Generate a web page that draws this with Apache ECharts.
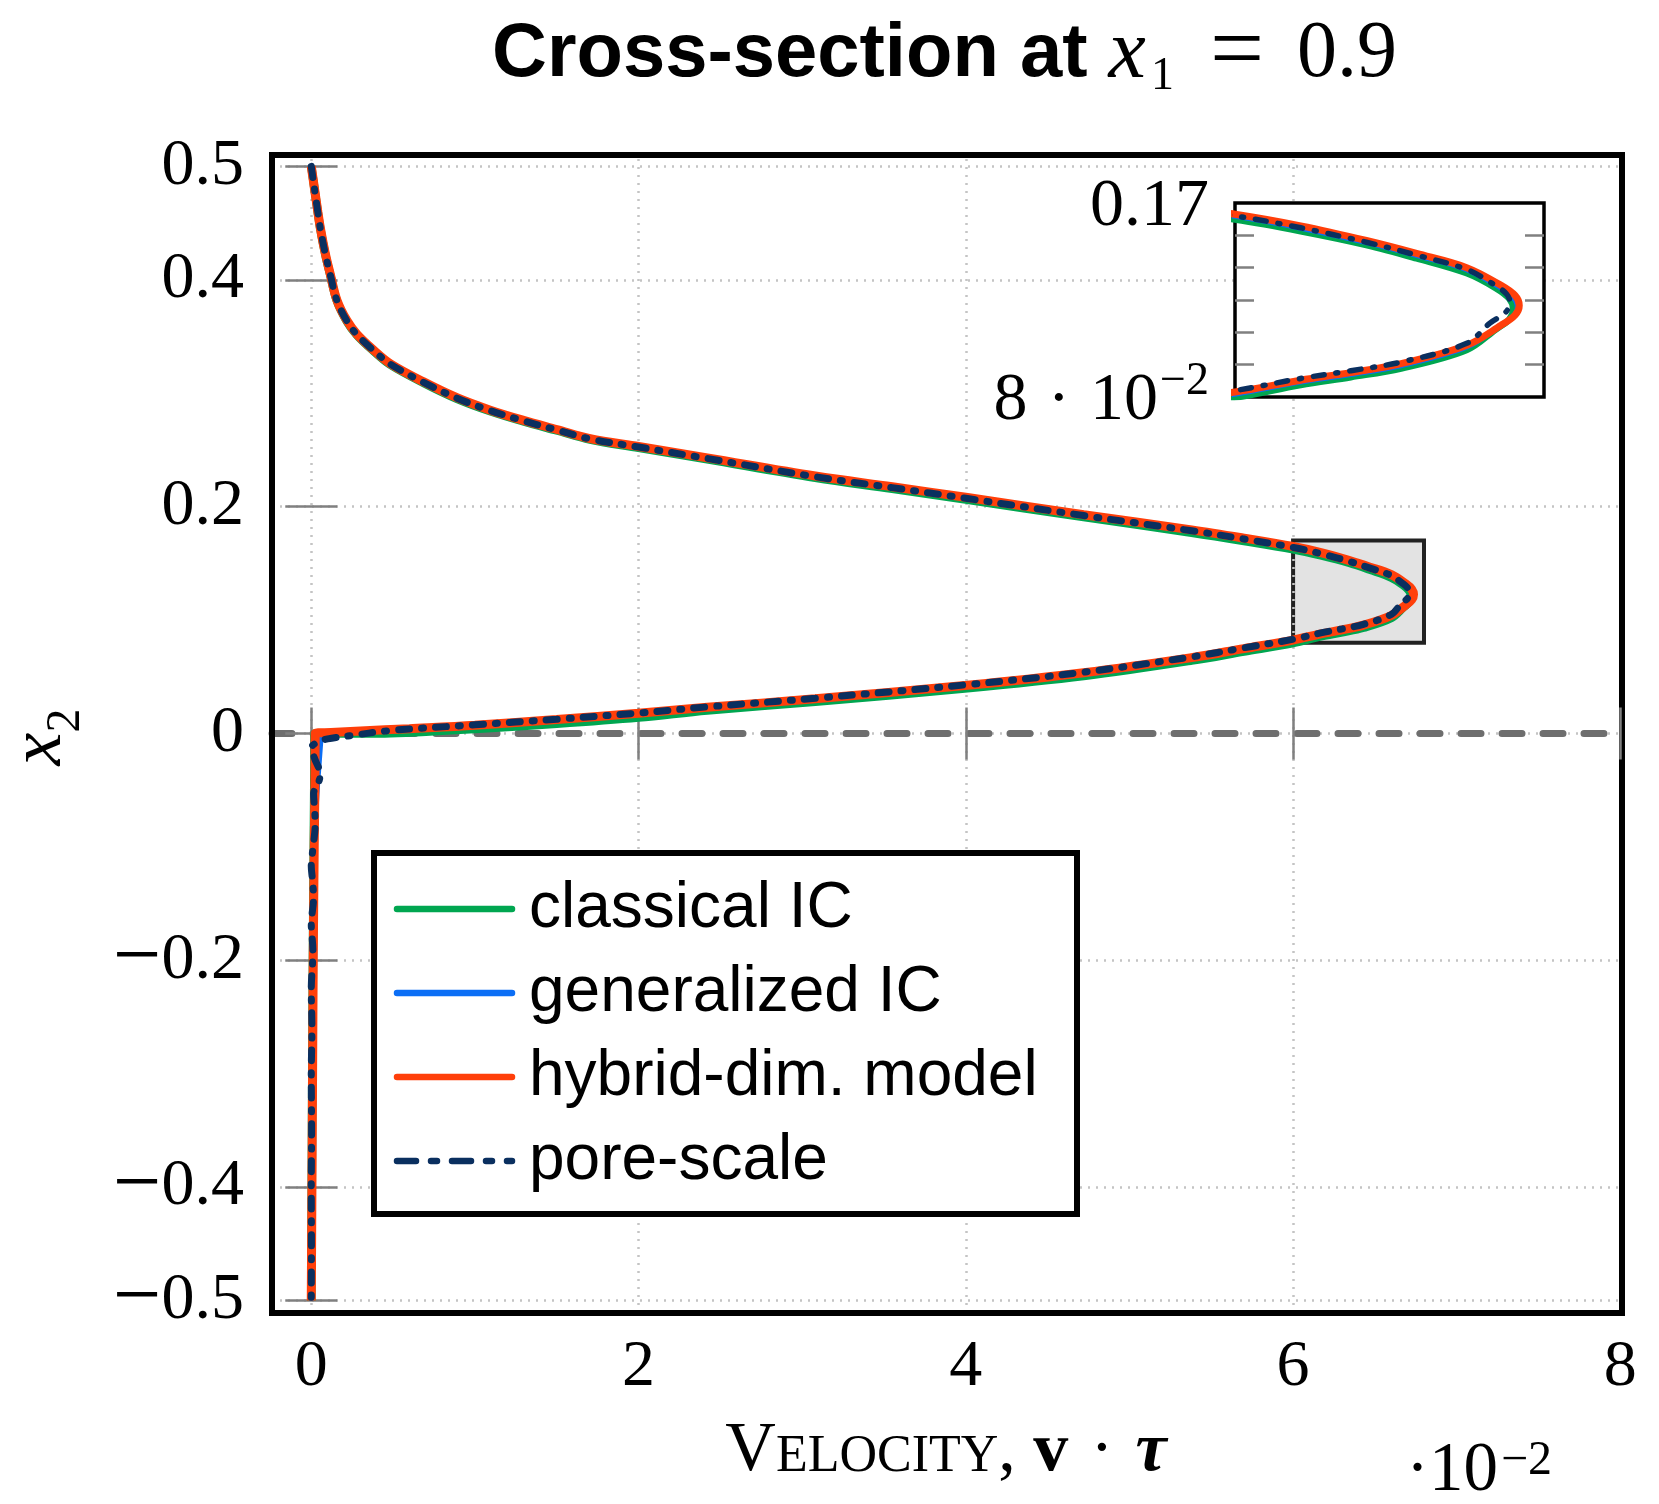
<!DOCTYPE html>
<html><head><meta charset="utf-8">
<script src="https://cdn.jsdelivr.net/npm/echarts@6/dist/echarts.min.js"></script>
<style>html,body{margin:0;padding:0;background:#fff}#c{width:1659px;height:1504px}</style>
</head><body><div id="c"></div>
<script>
// ---------- data (velocity in units of 1e-2, x2 coordinate) ----------
const velocityTicks = [0, 2, 4, 6, 8];
const x2Ticks = [-0.5, -0.4, -0.2, 0, 0.2, 0.4, 0.5];
const insetTicks = [0.095, 0.11, 0.125, 0.14, 0.155];
const insetLabelValues = [0.08, 0.17];
const zoomBoxV = [6.0, 6.8];
const zoomBoxX2 = [0.08, 0.17];
const legendNames = ['classical IC', 'generalized IC', 'hybrid-dim. model', 'pore-scale'];

const classicalV = [0,0.012,0.024,0.040,0.055,0.086,0.116,0.157,0.218,0.279,0.381,0.483,0.686,0.890,1.094,1.297,1.500,1.704,2.000,2.420,3.080,3.550,4.010,4.720,5.380,5.700,6.000,6.170,6.340,6.470,6.600,6.675,6.710,6.720,6.710,6.675,6.600,6.430,6.300,6.170,6.000,5.700,5.380,4.720,4.010,3.080,2.420,2.000,1.500,1.000,0.700,0.450,0.050,0.020,0.0195,0.018,0.015,0.010,0.006,0.003,0.000];
const classicalX2 = [0.500,0.4878,0.4755,0.4595,0.4452,0.4222,0.4042,0.3812,0.3632,0.3512,0.3371,0.3251,0.3091,0.2951,0.2841,0.2751,0.2671,0.2591,0.2518,0.2416,0.2254,0.2157,0.2059,0.1907,0.1770,0.1697,0.1623,0.1569,0.1505,0.1443,0.1374,0.1305,0.1256,0.1208,0.1160,0.1113,0.1018,0.0932,0.0892,0.0856,0.0797,0.0722,0.0642,0.0506,0.0398,0.0280,0.0203,0.0140,0.0085,0.0040,0.0015,0.0000,0.0000,0.0000,-0.008,-0.050,-0.100,-0.200,-0.300,-0.400,-0.500];

const generalizedV = [0,0.012,0.024,0.040,0.055,0.086,0.116,0.157,0.218,0.279,0.381,0.483,0.686,0.890,1.094,1.297,1.500,1.704,2.000,2.420,3.080,3.550,4.010,4.720,5.380,5.700,6.000,6.170,6.340,6.470,6.600,6.683,6.718,6.730,6.718,6.683,6.600,6.430,6.300,6.170,6.000,5.700,5.380,4.720,4.010,3.080,2.420,2.000,1.500,1.000,0.600,0.300,0.120,0.060,0.057,0.050,0.035,0.024,0.012,0.006,0.003,0.000];
const generalizedX2 = [0.500,0.4879,0.4757,0.4597,0.4455,0.4225,0.4045,0.3815,0.3635,0.3515,0.3375,0.3255,0.3095,0.2955,0.2845,0.2755,0.2675,0.2595,0.2524,0.2423,0.2262,0.2166,0.2069,0.1918,0.1784,0.1711,0.1637,0.1582,0.1515,0.1455,0.1389,0.1310,0.1264,0.1218,0.1172,0.1125,0.1030,0.0944,0.0903,0.0868,0.0812,0.0737,0.0657,0.0521,0.0413,0.0295,0.0222,0.0168,0.0113,0.0064,0.0034,0.0015,0.0004,0.0000,-0.006,-0.020,-0.050,-0.080,-0.150,-0.300,-0.400,-0.500];

const hybridV = [0,0.012,0.024,0.040,0.055,0.086,0.116,0.157,0.218,0.279,0.381,0.483,0.686,0.890,1.094,1.297,1.500,1.704,2.000,2.420,3.080,3.550,4.010,4.720,5.380,5.700,6.000,6.170,6.340,6.470,6.600,6.689,6.725,6.736,6.725,6.689,6.600,6.430,6.300,6.170,6.000,5.700,5.380,4.720,4.010,3.080,2.420,2.000,1.500,1.000,0.600,0.300,0.120,0.024,0.0235,0.022,0.018,0.012,0.008,0.004,0.000];
const hybridX2 = [0.500,0.488,0.476,0.460,0.446,0.423,0.405,0.382,0.364,0.352,0.338,0.326,0.310,0.296,0.285,0.276,0.268,0.260,0.253,0.243,0.227,0.2175,0.208,0.1928,0.1795,0.1722,0.1648,0.1594,0.1526,0.1466,0.1400,0.1318,0.1271,0.1225,0.1180,0.1133,0.1040,0.0955,0.0913,0.0878,0.0823,0.0748,0.0668,0.0535,0.0424,0.0305,0.0230,0.0178,0.0122,0.0072,0.0042,0.0021,0.0008,0.0000,-0.008,-0.050,-0.100,-0.200,-0.300,-0.400,-0.500];

const poreV = [0,0.012,0.024,0.040,0.055,0.086,0.116,0.157,0.218,0.279,0.381,0.483,0.686,0.890,1.094,1.297,1.500,1.704,2.000,2.420,3.080,3.550,4.010,4.720,5.380,5.700,6.000,6.170,6.340,6.470,6.600,6.670,6.703,6.712,6.700,6.660,6.600,6.430,6.300,6.170,6.000,5.700,5.380,4.720,4.010,3.080,2.420,2.000,1.500,1.000,0.480,0.240,0.100,0.035,0.004,0.020,0.055,0.040,0.014,0.020,0.024,0.014,0.000,0.008,0.014,0.000,0.010,0.000,0.004,0.000,0.002,0.000,0.001,0.000];
const poreX2 = [0.500,0.4878,0.4757,0.4597,0.4455,0.4225,0.4045,0.3815,0.3636,0.3516,0.3376,0.3256,0.3096,0.2956,0.2846,0.2756,0.2676,0.2596,0.2525,0.2424,0.2263,0.2167,0.2071,0.1921,0.1787,0.1714,0.1640,0.1585,0.1518,0.1458,0.1392,0.1322,0.1278,0.1237,0.1192,0.1143,0.1049,0.0962,0.0922,0.0886,0.0830,0.0755,0.0675,0.0540,0.0430,0.0310,0.0234,0.0180,0.0125,0.0076,0.0025,-0.0020,-0.0048,-0.0080,-0.0120,-0.0220,-0.0360,-0.0450,-0.0530,-0.0660,-0.0800,-0.0970,-0.1170,-0.1300,-0.1450,-0.1680,-0.1920,-0.2260,-0.2600,-0.3000,-0.3500,-0.4000,-0.4500,-0.5000];

// ---------- helpers ----------
const pairs = (a, b) => a.map((v, i) => [v, b[i]]);
const SERIF = '"Liberation Serif", "DejaVu Serif", serif';
const SANS = '"Liberation Sans", Arial, sans-serif';
const GREEN = '#00a650', BLUE = '#0b6ef5', RED = '#ff3f0a', NAVY = '#0a2f5f';
const fmtY = v => Math.abs(v) < 1e-12 ? '0' : (v < 0 ? '{mi|\u2212}' : '') + Math.abs(v).toFixed(1);

const curveDefs = [
  {name: legendNames[0], v: classicalV, y: classicalX2, color: GREEN, width: 8.5, insetWidth: 6.5, type: null},
  {name: legendNames[1], v: generalizedV, y: generalizedX2, color: BLUE, width: 5.5, insetWidth: 4.5, type: null},
  {name: legendNames[2], v: hybridV, y: hybridX2, color: RED, width: 9, insetWidth: 7, type: null},
  {name: legendNames[3], v: poreV, y: poreX2, color: NAVY, width: 7, insetWidth: 5.5, type: [11, 12, 2, 12]}
];

const series = [];
series.push({
  type: 'line', xAxisIndex: 0, yAxisIndex: 0, data: [[0, 0]], symbol: 'none', silent: true,
  lineStyle: {width: 0, opacity: 0}, z: 21,
  markLine: {
    silent: true, symbol: ['none', 'none'], label: {show: false}, animation: false,
    lineStyle: {color: '#c4c4c4', width: 2.5, type: [2, 6]},
    data: x2Ticks.map(t => ({yAxis: t})).concat(velocityTicks.map(t => ({xAxis: t})))
  }
});
series.push({
  type: 'line', xAxisIndex: 0, yAxisIndex: 0, data: [[0, 0]], symbol: 'none', silent: true,
  lineStyle: {width: 0, opacity: 0}, z: 22,
  markLine: {
    silent: true, symbol: ['none', 'none'], label: {show: false}, animation: false,
    lineStyle: {color: '#6e6e6e', width: 7, type: [20, 21], cap: 'round'},
    data: [{yAxis: 0}]
  },
  markArea: {
    silent: true, label: {show: false},
    itemStyle: {color: '#e3e3e3', borderColor: '#222', borderWidth: 4},
    data: [[{xAxis: zoomBoxV[0], yAxis: zoomBoxX2[0]}, {xAxis: zoomBoxV[1], yAxis: zoomBoxX2[1]}]]
  }
});
curveDefs.forEach((c, i) => {
  const ls = {color: c.color, width: c.width};
  if (c.type) { ls.type = c.type; ls.cap = 'round'; }
  series.push({
    name: c.name, type: 'line', xAxisIndex: 0, yAxisIndex: 0, data: pairs(c.v, c.y),
    symbol: 'none', smooth: 0.35, z: 30 + i, lineStyle: ls
  });
});
curveDefs.forEach((c, i) => {
  const ls = {color: c.color, width: c.insetWidth};
  if (c.type) { ls.type = c.type; ls.cap = 'round'; }
  series.push({
    type: 'line', xAxisIndex: 2, yAxisIndex: 2, data: pairs(c.v, c.y),
    symbol: 'none', smooth: 0.35, z: 42 + i, lineStyle: ls
  });
});

const tickStyle = {show: true, inside: true, length: 26, lineStyle: {color: '#808080', width: 2.5}};
const labelStyle = {fontFamily: SERIF, fontSize: 66, color: '#000'};

// legend drawn as graphic (box, line samples, labels)
const legendTop = 853, legendLeft = 374, legendRowY = [909, 993, 1077, 1161];
const legendGraphics = [{
  type: 'rect', z: 50, shape: {x: legendLeft, y: legendTop, width: 703, height: 361},
  style: {fill: '#fff', stroke: '#000', lineWidth: 6}
}];
curveDefs.forEach((c, i) => {
  legendGraphics.push({
    type: 'line', z: 51, shape: {x1: 397, y1: legendRowY[i], x2: 512, y2: legendRowY[i]},
    style: {stroke: c.color, lineWidth: 6.5, lineCap: 'round', lineDash: c.type ? [19, 15, 6, 15] : null}
  });
  legendGraphics.push({
    type: 'text', z: 51, x: 529, y: legendRowY[i],
    style: {text: c.name, fontFamily: SANS, fontSize: 64, fill: '#000', align: 'left', verticalAlign: 'middle'}
  });
});

const option = {
  animation: false,
  backgroundColor: '#fff',
  title: {
    text: '{b|Cross-section at }{m|x}{s|1}{e|=}{n|0.9}',
    left: 487, top: 5,
    textStyle: {
      rich: {
        b: {fontFamily: SANS, fontWeight: 'bold', fontSize: 76, lineHeight: 90, color: '#000'},
        m: {fontFamily: SERIF, fontWeight: 'normal', fontStyle: 'italic', fontSize: 84, lineHeight: 90, color: '#000'},
        s: {fontFamily: SERIF, fontWeight: 'normal', fontSize: 46, lineHeight: 46, verticalAlign: 'bottom', padding: [0, 0, 0, 5], color: '#000'},
        e: {fontFamily: SERIF, fontWeight: 'normal', fontSize: 96, lineHeight: 90, padding: [0, 33, 0, 36], color: '#000'},
        n: {fontFamily: SERIF, fontWeight: 'normal', fontSize: 80, lineHeight: 90, color: '#000'}
      }
    }
  },
  grid: [
    {left: 272, right: 37, top: 155, bottom: 191, show: true, borderColor: '#000', borderWidth: 6,
     backgroundColor: 'transparent', containLabel: false, outerBoundsMode: 'none', z: 20},
    {left: 1235, top: 203, width: 309, height: 194, show: true, borderColor: '#000', borderWidth: 3.5,
     backgroundColor: '#fff', containLabel: false, outerBoundsMode: 'none', z: 40}
  ],
  xAxis: [
    {type: 'value', gridIndex: 0, position: 'bottom', min: -0.24, max: 8.01, z: 21,
     axisLine: {show: false}, splitLine: {show: false},
     axisTick: Object.assign({customValues: velocityTicks}, tickStyle),
     axisLabel: Object.assign({customValues: velocityTicks, margin: 22, formatter: v => String(v)}, labelStyle)},
    {type: 'value', gridIndex: 0, position: 'top', min: -0.24, max: 8.01, z: 21,
     axisLine: {show: false}, splitLine: {show: false}, axisLabel: {show: false},
     axisTick: Object.assign({customValues: velocityTicks}, tickStyle)},
    {type: 'value', gridIndex: 1, min: zoomBoxV[0], max: zoomBoxV[1], z: 48,
     axisLine: {show: false}, splitLine: {show: false}, axisLabel: {show: false}, axisTick: {show: false}}
  ],
  yAxis: [
    {type: 'value', gridIndex: 0, position: 'left', min: -0.511, max: 0.51, z: 21,
     axisLine: {show: false}, splitLine: {show: false},
     axisTick: Object.assign({customValues: x2Ticks}, tickStyle),
     axisLabel: Object.assign({customValues: x2Ticks, margin: 28, formatter: fmtY,
       rich: {mi: {fontFamily: SERIF, fontSize: 86, color: '#000'}}}, labelStyle)},
    {type: 'value', gridIndex: 0, position: 'right', min: -0.511, max: 0.51, z: 21,
     axisLine: {show: false}, splitLine: {show: false}, axisLabel: {show: false},
     axisTick: Object.assign({customValues: x2Ticks}, tickStyle)},
    {type: 'value', gridIndex: 1, position: 'left', min: zoomBoxX2[0], max: zoomBoxX2[1], z: 48,
     axisLine: {show: false}, splitLine: {show: false},
     axisTick: {show: true, inside: true, length: 19, customValues: insetTicks, lineStyle: {color: '#808080', width: 2.5}},
     axisLabel: Object.assign({customValues: insetLabelValues, margin: 26,
       formatter: v => Math.abs(v - 0.17) < 1e-9 ? '{n|0.17}' : '{n|8}{d|·}{n|10}{sup|\u22122}',
       rich: {
         n: {fontFamily: SERIF, fontSize: 68, color: '#000', padding: [8, 0, 0, 0]},
         d: {fontFamily: SERIF, fontSize: 68, color: '#000', padding: [8, 20, 0, 20]},
         sup: {fontFamily: SERIF, fontSize: 46, color: '#000', verticalAlign: 'top', padding: [0, 0, 0, 2]}
       }}, labelStyle)},
    {type: 'value', gridIndex: 1, position: 'right', min: zoomBoxX2[0], max: zoomBoxX2[1], z: 48,
     axisLine: {show: false}, splitLine: {show: false}, axisLabel: {show: false},
     axisTick: {show: true, inside: true, length: 19, customValues: insetTicks, lineStyle: {color: '#808080', width: 2.5}}}
  ],
  graphic: legendGraphics.concat([
    {type: 'text', x: 946, y: 1452, z: 60, style: {
      text: '{c|V}{sc|ELOCITY}{c|, }{bv|v}{dt|·}{t|τ}', align: 'center', verticalAlign: 'middle',
      rich: {
        c: {fontFamily: SERIF, fontSize: 70, lineHeight: 70, verticalAlign: 'bottom', fill: '#000'},
        sc: {fontFamily: SERIF, fontSize: 52, lineHeight: 52, verticalAlign: 'bottom', padding: [0, 0, 4, 0], fill: '#000'},
        bv: {fontFamily: SERIF, fontWeight: 'bold', fontSize: 70, lineHeight: 70, verticalAlign: 'bottom', fill: '#000'},
        dt: {fontFamily: SERIF, fontSize: 70, lineHeight: 70, verticalAlign: 'bottom', padding: [0, 22, 0, 22], fill: '#000'},
        t: {fontFamily: SERIF, fontWeight: 'bold', fontStyle: 'italic', fontSize: 70, lineHeight: 70, verticalAlign: 'bottom', fill: '#000'}
      }}},
    {type: 'text', x: 1406, y: 1472, z: 60, style: {
      text: '{a|·10}{b|\u22122}', align: 'left', verticalAlign: 'middle',
      rich: {
        a: {fontFamily: SERIF, fontSize: 69, lineHeight: 69, fill: '#000'},
        b: {fontFamily: SERIF, fontSize: 48, lineHeight: 48, verticalAlign: 'top', padding: [0, 0, 0, 3], fill: '#000'}
      }}},
    {type: 'text', x: 41, y: 737, rotation: Math.PI / 2, z: 60, style: {
      text: '{m|x}{s|2}', align: 'center', verticalAlign: 'middle',
      rich: {
        m: {fontFamily: SERIF, fontStyle: 'italic', fontSize: 74, lineHeight: 74, fill: '#000'},
        s: {fontFamily: SERIF, fontSize: 48, lineHeight: 48, verticalAlign: 'bottom', padding: [0, 0, -12, 0], fill: '#000'}
      }}}
  ]),
  series: series
};

const chart = echarts.init(document.getElementById('c'), null, {renderer: 'canvas'});
chart.setOption(option);
</script>
</body></html>
